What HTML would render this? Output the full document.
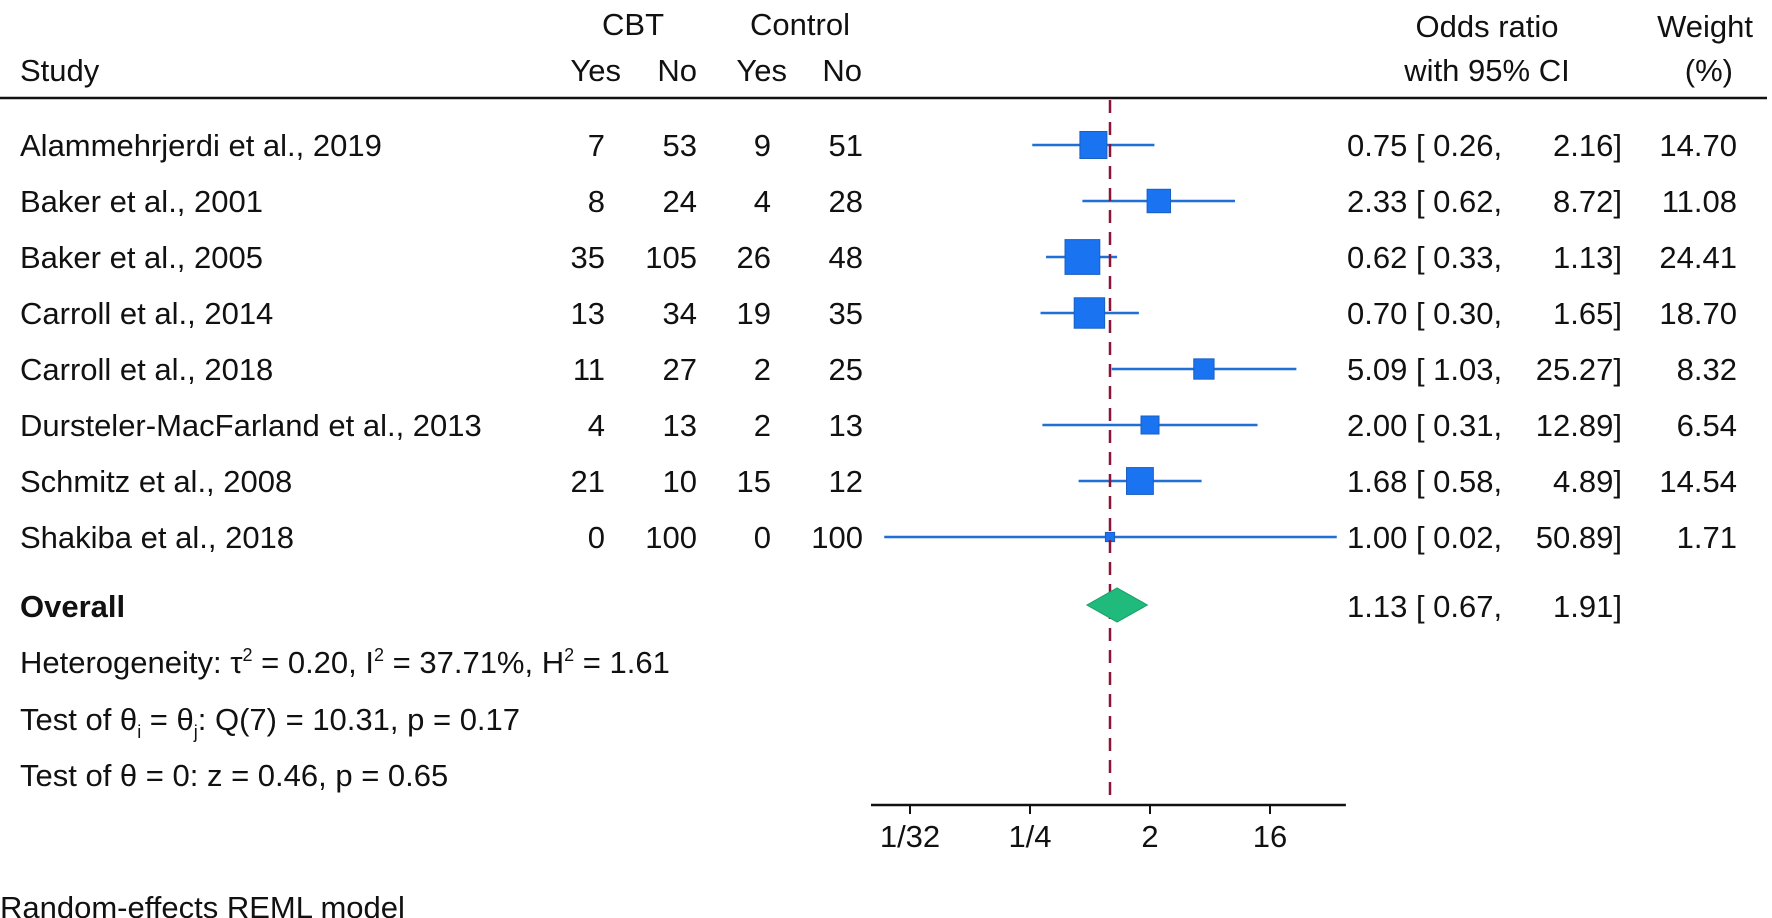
<!DOCTYPE html>
<html><head><meta charset="utf-8"><style>
html,body{margin:0;padding:0;background:#fff;}
svg{display:block;font-family:"Liberation Sans",Arial,sans-serif;}
text{fill:#111;font-size:31px;}
</style></head><body>
<svg id="chart" width="1772" height="918" viewBox="0 0 1772 918">
<g>
<text x="633" y="35" text-anchor="middle">CBT</text>
<text x="800" y="35" text-anchor="middle">Control</text>
<text x="20" y="81">Study</text>
<text x="621" y="81" text-anchor="end">Yes</text>
<text x="697" y="81" text-anchor="end">No</text>
<text x="787" y="81" text-anchor="end">Yes</text>
<text x="862" y="81" text-anchor="end">No</text>
<text x="1487" y="37" text-anchor="middle">Odds ratio</text>
<text x="1487" y="81" text-anchor="middle">with 95% CI</text>
<text x="1753" y="37" text-anchor="end">Weight</text>
<text x="1733" y="81" text-anchor="end">(%)</text>
<line x1="0" y1="98" x2="1767" y2="98" stroke="#111" stroke-width="2.5"/>
</g>
<g id="rows"></g>
<g>
<text x="20" y="617" font-weight="bold">Overall</text>
<text x="20" y="673">Heterogeneity: τ<tspan dy="-12" font-size="18">2</tspan><tspan dy="12"> = 0.20, I</tspan><tspan dy="-12" font-size="18">2</tspan><tspan dy="12"> = 37.71%, H</tspan><tspan dy="-12" font-size="18">2</tspan><tspan dy="12"> = 1.61</tspan></text>
<text x="20" y="730">Test of θ<tspan dy="8" font-size="18">i</tspan><tspan dy="-8"> = θ</tspan><tspan dy="8" font-size="18">j</tspan><tspan dy="-8">: Q(7) = 10.31, p = 0.17</tspan></text>
<text x="20" y="786">Test of θ = 0: z = 0.46, p = 0.65</text>
<text x="0" y="918">Random-effects REML model</text>
<text x="1347" y="617">1.13 [ 0.67,</text>
<text x="1622" y="617" text-anchor="end">1.91]</text>
</g>
<g id="axis"></g>
</svg>
<script>
const studies=["Alammehrjerdi et al., 2019","Baker et al., 2001","Baker et al., 2005","Carroll et al., 2014","Carroll et al., 2018","Dursteler-MacFarland et al., 2013","Schmitz et al., 2008","Shakiba et al., 2018"];
const cbtYes=[7,8,35,13,11,4,21,0];
const cbtNo=[53,24,105,34,27,13,10,100];
const ctlYes=[9,4,26,19,2,2,15,0];
const ctlNo=[51,28,48,35,25,13,12,100];
const oddsRatio=[0.75,2.33,0.62,0.70,5.09,2.00,1.68,1.00];
const ciLow=[0.26,0.62,0.33,0.30,1.03,0.31,0.58,0.02];
const ciHigh=[2.16,8.72,1.13,1.65,25.27,12.89,4.89,50.89];
const weights=[14.70,11.08,24.41,18.70,8.32,6.54,14.54,1.71];
const overall=[1.13,0.67,1.91];
const tickValues=[1/32,1/4,2,16];
const tickLabels=["1/32","1/4","2","16"];
const axisMin=0.0159, axisMax=59.6;

const NS="http://www.w3.org/2000/svg";
const xs=v=>1110+40*Math.log2(v);
const ys=i=>145+56*i;
function mk(tag,attrs,parent,txt){const e=document.createElementNS(NS,tag);for(const k in attrs)e.setAttribute(k,attrs[k]);if(txt!==undefined)e.textContent=txt;parent.appendChild(e);return e;}
const rows=document.getElementById('rows');
const axis=document.getElementById('axis');
const fmt=v=>v.toFixed(2);
const ref=mk('line',{x1:xs(1),x2:xs(1),y1:100,y2:805,stroke:'#8a1538','stroke-width':2.5,'stroke-dasharray':'13,9'},axis);


studies.forEach((s,i)=>{
  const y=ys(i);
  const g=mk('g',{},rows);
  
  
  const cols=[[cbtYes[i],605],[cbtNo[i],697],[ctlYes[i],771],[ctlNo[i],863]];
  let t=mk('text',{x:20,y:y+11},g,s);
  
  
  cols.forEach(c=>{const n=mk('text',{x:c[1],y:y+11,'text-anchor':'end'},g,String(c[0]));
    
    });
  const l=mk('line',{x1:Math.max(xs(ciLow[i]),xs(axisMin)),x2:Math.min(xs(ciHigh[i]),xs(axisMax)),y1:y,y2:y,stroke:'#1f6fd6','stroke-width':2.5},g);
  
  
  const side=7.04*Math.sqrt(weights[i]);
  const r=mk('rect',{x:xs(oddsRatio[i])-side/2,y:y-side/2,width:side,height:side,fill:'#1a73f0',stroke:'#1a5fc0','stroke-width':1},g);
  
  
  const o=mk('text',{x:1347,y:y+11},g,fmt(oddsRatio[i])+' [ '+fmt(ciLow[i])+',');
  
  
  const h=mk('text',{x:1622,y:y+11,'text-anchor':'end'},g,fmt(ciHigh[i])+']');
  
  
  const w=mk('text',{x:1737,y:y+11,'text-anchor':'end'},g,fmt(weights[i]));
  
  
});
const dy=605;
const d=mk('polygon',{points:[[xs(overall[1]),dy],[xs(overall[0]),dy-17],[xs(overall[2]),dy],[xs(overall[0]),dy+17]].map(p=>p.join(',')).join(' '),fill:'#1fba7c',stroke:'#17a06a','stroke-width':1},axis);


const al=mk('line',{x1:xs(axisMin),x2:xs(axisMax),y1:805,y2:805,stroke:'#111','stroke-width':2.5},axis);


tickValues.forEach((v,i)=>{
  const tk=mk('line',{x1:xs(v),x2:xs(v),y1:805,y2:814,stroke:'#111','stroke-width':2},axis);
  
  
  const tl=mk('text',{x:xs(v),y:847,'text-anchor':'middle'},axis,tickLabels[i]);
  
  
});
</script>
</body></html>
